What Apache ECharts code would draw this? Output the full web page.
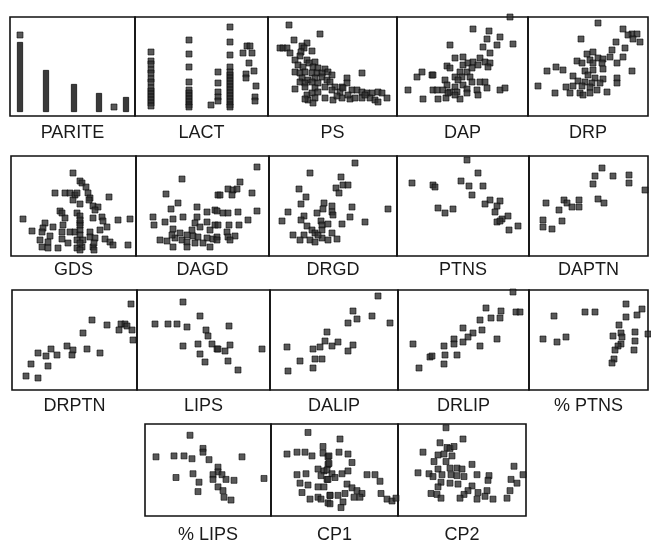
<!DOCTYPE html>
<html><head><meta charset="utf-8">
<script src="https://cdn.jsdelivr.net/npm/echarts@6/dist/echarts.min.js"></script>
<style>html,body{margin:0;padding:0;background:#fff}#c{width:651px;height:545px}</style>
</head><body><div id="c"></div><script>
// ---- data (panel units, x from left edge, y up from bottom edge) ----
const panelNames = ['PARITE','LACT','PS','DAP','DRP','GDS','DAGD','DRGD','PTNS','DAPTN','DRPTN','LIPS','DALIP','DRLIP','% PTNS','% LIPS','CP1','CP2'];
const PARITE_bars = [[10,70],[36,42],[64,28],[89,19],[116,15]];
const PARITE_pts = [[10,77],[104,5]];
const LACT = [[16,64],[16,55],[16,52],[16,46],[16,43],[16,37],[16,34],[16,28],[16,25],[16,22],[16,19],[16,16],[16,13],[16,10],
 [54,76],[54,62],[54,49],[54,34],[54,26],[54,23],[54,20],[54,17],[54,14],[54,11],[54,9],
 [83,44],[83,33],[83,24],[83,19],[83,15],[76,11],
 [95,89],[95,74],[95,61],[95,49],[95,44],[95,41],[95,38],[95,35],[95,32],[95,29],[95,26],[95,23],[95,20],[95,17],[95,14],[95,11],[95,9],
 [108,63],[112,70],[115,70],[117,63],[114,53],[119,45],[111,42],[111,38],[121,30],[120,19],[120,15]];
const PS = [[21,91],[52,82],[26,76],[39,73],[12,68],[15,68],[19,68],[22,63],[34,70],[36,68],[33,64],[44,65],[32,60],[27,56],[39,56],[47,54],[41,53],[30,51],[35,49],[45,49],[50,48],[57,47],[27,44],[32,43],[37,44],[44,43],[49,43],[54,43],[60,44],[64,41],[34,38],[40,36],[47,38],[54,39],[59,36],[32,34],[37,33],[44,34],[50,33],[62,34],[79,38],[94,43],[27,27],[37,29],[47,28],[57,29],[67,29],[74,29],[79,33],[84,26],[89,26],[94,24],[99,23],[104,23],[110,24],[114,23],[119,18],[39,21],[44,23],[50,24],[47,18],[40,16],[57,18],[65,16],[74,18],[82,17],[87,18],[94,18],[102,18],[107,16],[110,14],[45,13],[37,17],[72,24],[75,28],[64,26],[69,20],[80,21],[97,21]];
const DAP = [[20,39],[25,44],[11,26],[26,17],[36,26],[35,41],[113,99],[76,87],[92,85],[103,79],[90,77],[100,71],[116,72],[53,71],[86,69],[93,63],[58,58],[66,59],[83,58],[88,54],[93,53],[50,50],[53,48],[66,51],[71,53],[76,54],[81,51],[91,49],[36,41],[63,44],[70,44],[75,48],[58,39],[65,39],[73,39],[48,36],[61,36],[75,34],[83,34],[88,34],[50,31],[58,29],[66,31],[80,26],[90,28],[103,26],[108,28],[40,26],[46,26],[53,24],[60,24],[70,27],[81,21],[41,17],[49,18],[63,17],[58,21],[70,23],[51,23]];
const DRP = [[115,102],[70,93],[95,87],[104,82],[109,82],[100,81],[105,77],[112,74],[53,77],[88,74],[84,66],[97,68],[59,62],[65,64],[49,55],[62,56],[70,58],[75,57],[82,59],[95,59],[54,53],[65,53],[74,53],[89,53],[19,45],[28,49],[35,46],[57,45],[65,46],[75,47],[104,45],[45,40],[60,41],[67,38],[75,37],[89,38],[50,35],[57,34],[64,33],[72,33],[89,33],[10,30],[38,29],[45,30],[54,30],[62,29],[27,23],[42,23],[52,23],[62,23],[79,24],[55,21],[69,26]];
const GDS = [[62,83],[69,75],[71,73],[75,69],[44,63],[54,63],[59,63],[64,61],[66,63],[62,56],[77,63],[79,58],[78,56],[98,59],[69,52],[82,50],[87,49],[84,46],[49,45],[51,43],[66,43],[69,40],[54,38],[12,37],[82,38],[91,39],[92,35],[107,36],[119,37],[34,33],[42,29],[52,31],[69,33],[32,28],[96,29],[21,25],[31,24],[51,24],[59,24],[64,24],[69,26],[79,24],[89,26],[39,20],[69,21],[79,19],[29,16],[37,14],[51,17],[57,13],[66,16],[72,16],[84,18],[94,17],[99,14],[102,11],[117,11],[31,9],[37,8],[47,8],[66,8],[71,9],[82,9],[69,31],[69,36],[83,13],[83,6],[69,13],[69,6]];
const DAGD = [[46,77],[30,62],[35,47],[42,53],[17,39],[18,31],[29,34],[37,37],[47,39],[61,49],[61,39],[71,44],[79,46],[82,61],[37,27],[59,33],[64,29],[71,34],[74,26],[79,31],[24,16],[31,15],[39,18],[46,16],[51,14],[57,20],[62,19],[71,18],[77,17],[37,9],[51,9],[59,13],[67,13],[74,9],[56,26],[51,21],[44,23],[36,21],
 [121,89],[104,74],[84,61],[92,67],[97,66],[101,67],[96,61],[116,63],[81,45],[87,43],[92,43],[102,44],[121,45],[82,31],[93,31],[103,31],[112,36],[81,19],[91,24],[92,19],[99,20],[94,16],[81,16]];
const DRGD = [[86,93],[41,83],[72,79],[74,71],[79,71],[67,68],[70,63],[30,67],[37,59],[32,52],[55,53],[63,50],[54,47],[48,43],[63,44],[64,41],[83,49],[119,47],[19,44],[35,40],[32,36],[38,30],[13,35],[52,35],[53,31],[59,32],[73,32],[81,39],[96,34],[24,21],[35,21],[31,16],[43,26],[46,23],[41,16],[46,14],[53,18],[59,16],[63,23],[68,17],[49,21],[53,26]];
const PTNS = [[15,73],[36,71],[70,96],[81,83],[64,75],[72,70],[86,70],[38,69],[75,61],[41,48],[48,43],[56,47],[93,56],[88,52],[103,55],[100,50],[98,44],[111,40],[105,37],[100,34],[103,35],[121,30],[112,26]];
const DAPTN = [[112,101],[73,88],[66,80],[84,80],[100,81],[100,73],[64,72],[116,66],[69,57],[75,53],[17,53],[35,56],[38,53],[43,49],[50,56],[50,49],[30,46],[14,36],[33,35],[14,29],[23,27]];
const DRPTN = [[119,86],[80,70],[95,65],[109,66],[113,66],[115,64],[107,60],[120,60],[121,50],[71,57],[55,44],[61,40],[60,35],[75,41],[88,37],[39,41],[26,37],[34,34],[45,35],[19,26],[36,24],[14,14],[26,12]];
const LIPS = [[46,88],[18,66],[31,66],[40,66],[50,63],[63,74],[69,60],[71,54],[46,44],[61,46],[75,46],[80,41],[63,36],[68,28],[92,64],[93,45],[81,41],[88,39],[91,29],[101,20],[125,41]];
const DALIP = [[108,94],[83,79],[87,71],[78,67],[102,74],[120,67],[57,58],[55,49],[50,43],[43,41],[62,44],[68,48],[83,45],[78,39],[17,43],[30,29],[45,31],[52,31],[43,22],[18,19]];
const DRLIP = [[15,46],[32,33],[21,22],[115,98],[88,82],[103,79],[118,78],[122,78],[102,72],[93,72],[82,70],[84,60],[65,62],[75,57],[70,53],[56,51],[56,46],[65,48],[46,44],[82,44],[99,51],[47,35],[59,35],[46,26],[34,34]];
const PCT_PTNS = [[112,102],[97,86],[113,81],[108,75],[97,73],[56,78],[66,78],[25,74],[90,65],[84,54],[92,57],[93,53],[92,46],[106,58],[106,49],[105,40],[119,56],[89,44],[86,40],[85,31],[83,27],[14,51],[28,48],[37,53]];
const PCT_LIPS = [[45,86],[11,63],[29,64],[39,64],[47,61],[58,72],[58,68],[64,60],[97,63],[73,52],[73,47],[31,41],[48,45],[68,44],[68,39],[77,44],[81,39],[89,38],[54,36],[53,26],[73,31],[78,27],[79,20],[86,17],[119,40]];
const CP1 = [[37,89],[16,66],[26,68],[34,68],[41,64],[52,74],[52,67],[57,63],[57,55],[47,50],[53,48],[26,44],[35,45],[50,43],[56,39],[29,35],[37,33],[47,31],[53,31],[31,25],[39,18],[47,20],[50,18],[59,22],[57,14],
 [69,82],[68,68],[77,66],[58,64],[58,56],[81,57],[56,49],[61,45],[71,45],[77,48],[64,41],[57,39],[96,44],[104,44],[109,37],[76,34],[81,30],[86,27],[91,24],[83,20],[89,20],[74,24],[67,22],[59,22],[72,15],[59,13],[70,9],[110,24],[116,18],[121,16],[125,19]];
const CP2 = [[48,94],[65,82],[42,78],[49,73],[52,72],[56,74],[25,68],[40,65],[46,66],[54,64],[36,58],[48,58],[74,55],[116,53],[52,51],[59,51],[64,50],[40,50],[20,46],[31,45],[35,42],[44,44],[53,44],[59,43],[66,42],[79,44],[91,43],[90,38],[125,44],[113,39],[119,35],[43,36],[52,35],[60,34],[40,31],[74,32],[33,24],[39,23],[43,19],[70,27],[66,23],[62,19],[79,18],[89,27],[87,21],[95,18],[109,19],[112,27],[80,25]];

// ---- layout ----
const layout = [
 [10,17,135,116,8],[135,17,268,116,8],[268,17,397,116,8],[397,17,528,116,8],[528,17,648,116,8],
 [11,156,136,256,5],[136,156,269,256,5],[269,156,397,256,5],[397,156,529,256,5],[529,156,648,256,5],
 [12,290,137,390,7],[137,290,270,390,7],[270,290,398,390,7],[398,290,529,390,7],[529,290,648,390,7],
 [145,424,271,522,10],[271,424,398,522,10],[398,424,526,522,10]
];
const pointSets = [PARITE_pts,LACT,PS,DAP,DRP,GDS,DAGD,DRGD,PTNS,DAPTN,DRPTN,LIPS,DALIP,DRLIP,PCT_PTNS,PCT_LIPS,CP1,CP2];

const grid=[],xAxis=[],yAxis=[],series=[];
const mark = {color:'#303030',borderColor:'#000',borderWidth:0.7};
layout.forEach((p,i)=>{
  const [L,T,R,B,gap]=p;
  const w=R-L,h=B-T;
  grid.push({left:L,top:T,width:w,height:h,show:true,borderColor:'#111',borderWidth:1.6,backgroundColor:'transparent'});
  xAxis.push({gridIndex:i,type:'value',min:0,max:w,axisLine:{show:false},axisTick:{show:false},axisLabel:{show:false},splitLine:{show:false},
    name:panelNames[i],nameLocation:'middle',nameGap:gap,
    nameTextStyle:{fontFamily:'Liberation Sans, Arial, sans-serif',fontSize:18,color:'#1a1a1a',verticalAlign:'top'}});
  const ymin = i===0 ? -4 : 0;
  yAxis.push({gridIndex:i,type:'value',min:ymin,max:h+ymin,show:false});
  series.push({type:'scatter',xAxisIndex:i,yAxisIndex:i,symbol:'rect',symbolSize:6,itemStyle:mark,data:pointSets[i],silent:true});
});
series.push({type:'bar',xAxisIndex:0,yAxisIndex:0,barWidth:6,itemStyle:{color:'#3a3a3a',borderColor:'#000',borderWidth:0.7},data:PARITE_bars,silent:true});

const chart = echarts.init(document.getElementById('c'),null,{renderer:'canvas'});
chart.setOption({animation:false,backgroundColor:'#fff',grid,xAxis,yAxis,series});
</script></body></html>
